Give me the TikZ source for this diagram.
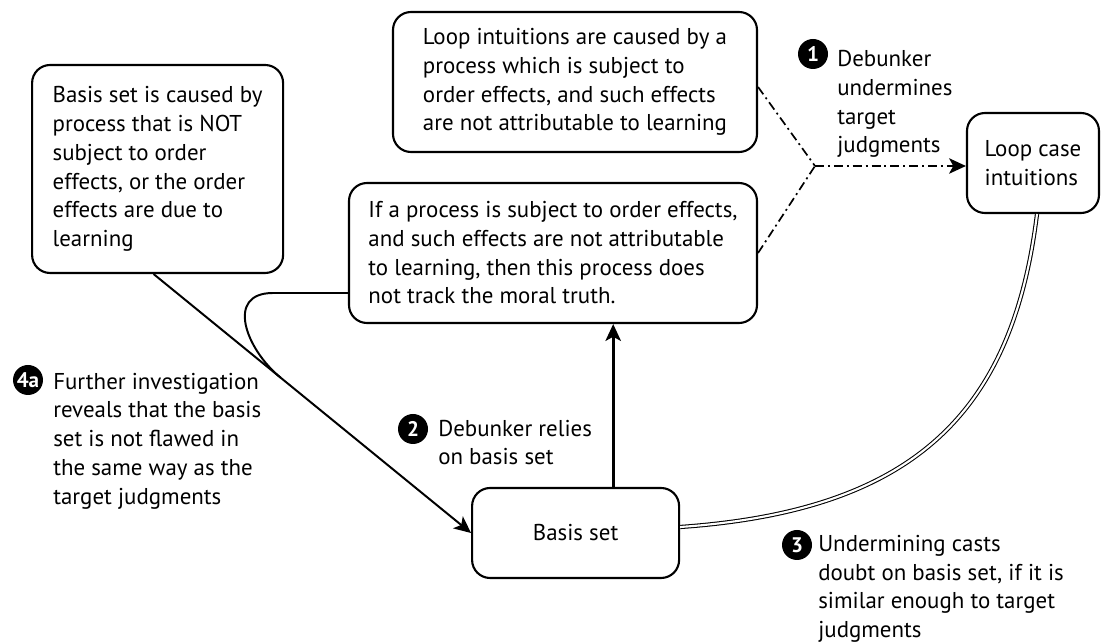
\documentclass[tikz,border=0pt]{standalone}
\usepackage{fontspec}
\setmainfont{PT Sans}
\usetikzlibrary{arrows.meta,calc}
\tikzset{
  box/.style={shape=rectangle,draw,rounded corners=0.45cm,line width=1.5pt,align=left},
  num/.style={shape=circle,fill=black,text=white,font=\bfseries\fontsize{15}{15}\selectfont,minimum size=0.75cm,inner sep=0pt},
  note/.style={align=left,anchor=north west,inner sep=0pt},
  arr/.style={-{Stealth[length=12pt,width=11pt,inset=3pt]}},
  dashdotline/.style={line width=1.2pt,dash pattern=on 6.4pt off 2.8pt on 1.4pt off 2.8pt}
}
\begin{document}
\begin{tikzpicture}[font=\fontsize{16.3}{20.4}\selectfont]
\useasboundingbox (0,0) rectangle (27.525,16.075);
% boxes
\node[box,minimum width=6.275cm,minimum height=5.2cm](BC) at (3.94,11.85){Basis set is caused by\\process that is NOT\\subject to order\\effects, or the order\\effects are due to\\learning};
\node[box,minimum width=9.1cm,minimum height=3.5cm](LI) at (14.375,14.025){Loop intuitions are caused by a\\process which is subject to\\order effects, and such effects\\are not attributable to learning};
\node[box,minimum width=10.2cm,minimum height=3.5cm](PR) at (13.825,9.75){If a process is subject to order effects,\\and such effects are not attributable\\to learning, then this process does\\not track the moral truth.};
\node[box,minimum width=3.3cm,minimum height=2.5cm](LC) at (25.825,12.0){Loop case\\intuitions};
\node[box,align=center,minimum width=5.175cm,minimum height=2.25cm](BS) at (14.39,2.75){Basis set};
% numbered notes
\node[num](N1) at (20.325,14.725){1};
\node[note](T1) at (20.925,14.82){Debunker\\undermines\\target\\judgments};
\node[num](N2) at (10.325,5.35){2};
\node[note](T2) at (10.95,5.58){Debunker relies\\on basis set};
\node[num](N3) at (19.925,2.45){3};
\node[note](T3) at (20.45,2.7){Undermining casts\\doubt on basis set, if it is\\similar enough to target\\judgments};
\node[num](N4) at (0.7,6.575){4a};
\node[note](T4) at (1.325,6.755){Further investigation\\reveals that the basis\\set is not flawed in\\the same way as the\\target judgments};
% connectors
\coordinate (J) at (20.375,11.925);
\draw[dashdotline] ([yshift=-0.125cm]LI.east) -- (J);
\draw[dashdotline] (PR.east) -- (J);
\draw[dashdotline,arr] (J) -- (J -| LC.west);
\draw[arr,line width=1.9pt] ([xshift=0.94cm]BS.north) -- ([xshift=0.94cm]BS.north |- PR.south);
\draw[arr,line width=1.4pt] ([xshift=-0.1cm]BC.south) -- (BS.west);
\coordinate (M) at ($([xshift=-0.1cm]BC.south)!0.4!(BS.west)$);
\coordinate (K) at ($([yshift=-1cm]PR.west)+(-1.875,0)$);
\draw[line width=1.4pt] ([yshift=-1cm]PR.west) -- (K) .. controls ($(K)+(-1.2,0)$) and ($(M)+(-0.87,0.71)$) .. (M);
\draw[double,line width=0.75pt,double distance=1.5pt] ([xshift=0.1cm]LC.south) to[out=-97,in=4,out distance=5cm,in distance=5.875cm] ([yshift=0.15cm]BS.east);
\end{tikzpicture}
\end{document}
